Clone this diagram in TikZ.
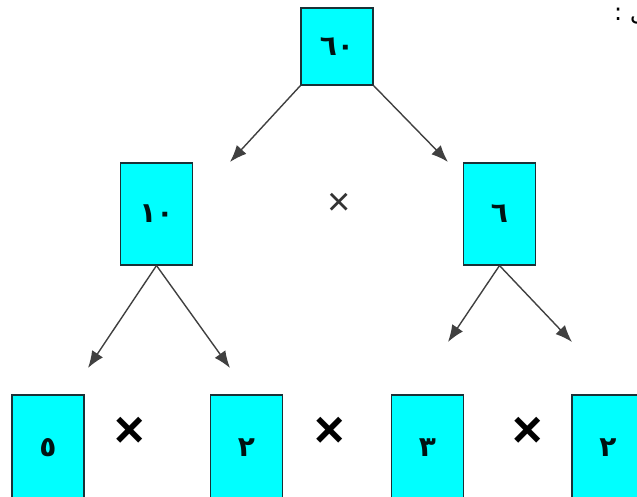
\documentclass[tikz,border=0pt]{standalone}
\usepackage{fontspec}
\setmainfont{Liberation Sans}
\newfontfamily\arabicfont[Script=Arabic]{DejaVu Sans}
\usetikzlibrary{arrows.meta}
\TeXXeTstate=1
\definecolor{boxcyan}{RGB}{0,255,255}
\definecolor{boxedge}{RGB}{25,50,55}
\tikzset{
  numbox/.style={draw=boxedge, line width=1.1pt, fill=boxcyan, minimum width=72pt,
    inner sep=0pt, text=black!85!teal, font=\arabicfont\bfseries\fontsize{28}{28}\selectfont},
  link/.style={draw=black!75, line width=1.4pt, -{Latex[length=17pt,width=13pt]}},
  boldtimes/.style={font=\bfseries\fontsize{52}{52}\selectfont},
  thintimes/.style={font=\fontsize{40}{40}\selectfont, text=black!80}
}
\begin{document}
\begin{tikzpicture}[x=1pt,y=-1pt]
  \useasboundingbox (0,0) rectangle (637,497);
  \clip (0,0) rectangle (637,497);
  % tree of factors
  \node[numbox, minimum height=77pt] (n60) at (337,46.5) {٦٠};
  \node[numbox, minimum height=102pt] (n10) at (156.5,214) {١٠};
  \node[numbox, minimum height=102pt] (n6) at (499.5,214) {٦};
  \node[numbox, minimum height=106pt] (b5) at (48,448) {٥};
  \node[numbox, minimum height=106pt] (b2a) at (246.5,448) {٢};
  \node[numbox, minimum height=106pt] (b3) at (427.5,448) {٣};
  \node[numbox, minimum height=106pt] (b2b) at (608,448) {٢};
  % arrow tips
  \coordinate (t10) at (230,162);
  \coordinate (t6) at (448,162);
  \coordinate (t5) at (88,368);
  \coordinate (t2a) at (230,368);
  \coordinate (t3) at (448,342);
  \coordinate (t2b) at (572,342);
  \draw[link] (n60.south west) -- (t10);
  \draw[link] (n60.south east) -- (t6);
  \draw[link] (n10.south) -- (t5);
  \draw[link] (n10.south) -- (t2a);
  \draw[link] (n6.south) -- (t3);
  \draw[link] (n6.south) -- (t2b);
  % multiplication signs
  \node[thintimes] (m1) at (339,204) {×};
  \node[boldtimes] (m2) at (130,432) {×};
  \node[boldtimes] (m3) at (330,432) {×};
  \node[boldtimes] (m4) at (528,432) {×};
  % heading at the top right edge
  \node[anchor=north west, inner sep=0pt, font=\arabicfont\fontsize{24}{24}\selectfont] (head) at (614,2) {\beginR التحليل :\endR};
\end{tikzpicture}
\end{document}
